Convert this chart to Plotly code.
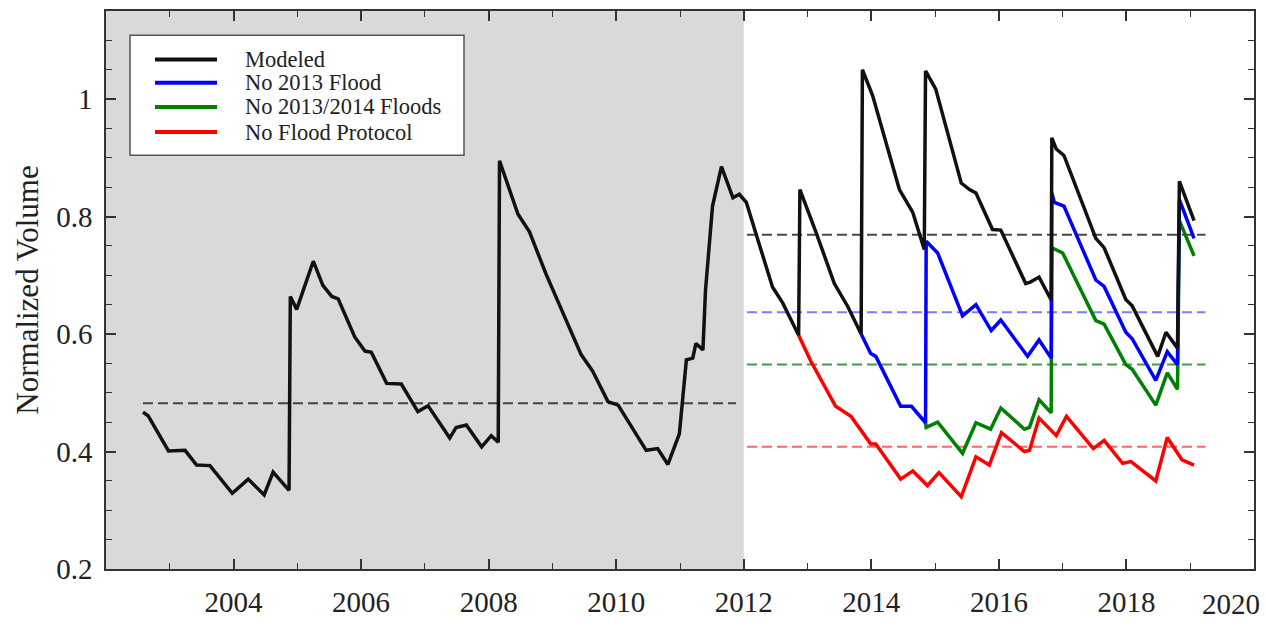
import plotly.graph_objects as go

# ---------------- data ----------------
modeled_x = [2002.58, 2002.66, 2002.98, 2003.24, 2003.42, 2003.63, 2003.98, 2004.23, 2004.48, 2004.62,
             2004.87, 2004.89, 2004.99, 2005.25, 2005.40, 2005.54, 2005.64, 2005.90, 2006.06, 2006.16,
             2006.40, 2006.63, 2006.89, 2007.05, 2007.39, 2007.49, 2007.65, 2007.89, 2008.04, 2008.15,
             2008.17, 2008.46, 2008.64, 2008.90, 2009.45, 2009.63, 2009.87, 2010.03, 2010.47, 2010.65,
             2010.81, 2010.99, 2011.10, 2011.20, 2011.25, 2011.36, 2011.40, 2011.51, 2011.65, 2011.83,
             2011.93, 2012.04, 2012.45, 2012.61, 2012.86, 2012.88, 2013.13, 2013.42, 2013.63, 2013.84,
             2013.86, 2014.02, 2014.44, 2014.65, 2014.83, 2014.85, 2015.01, 2015.41, 2015.54, 2015.64,
             2015.90, 2016.03, 2016.42, 2016.50, 2016.63, 2016.82, 2016.83, 2016.90, 2017.02, 2017.52,
             2017.65, 2017.99, 2018.09, 2018.49, 2018.62, 2018.80, 2018.83, 2019.06]
modeled_y = [0.467, 0.461, 0.401, 0.402, 0.377, 0.376, 0.329, 0.353, 0.326, 0.365,
             0.334, 0.664, 0.642, 0.724, 0.683, 0.664, 0.660, 0.595, 0.571, 0.569,
             0.516, 0.515, 0.468, 0.478, 0.423, 0.441, 0.445, 0.408, 0.427, 0.416,
             0.895, 0.804, 0.774, 0.702, 0.565, 0.537, 0.485, 0.479, 0.402, 0.405,
             0.378, 0.430, 0.556, 0.559, 0.584, 0.573, 0.675, 0.818, 0.885, 0.832,
             0.838, 0.824, 0.680, 0.653, 0.598, 0.846, 0.774, 0.686, 0.647, 0.600,
             1.050, 1.006, 0.846, 0.807, 0.744, 1.048, 1.017, 0.857, 0.846, 0.840,
             0.778, 0.777, 0.686, 0.689, 0.697, 0.658, 0.934, 0.915, 0.904, 0.763,
             0.747, 0.659, 0.648, 0.562, 0.603, 0.576, 0.860, 0.793]

no2013_x = [2013.84, 2013.99, 2014.07, 2014.46, 2014.63, 2014.85, 2014.86, 2015.04, 2015.43, 2015.64,
            2015.88, 2016.03, 2016.45, 2016.63, 2016.82, 2016.83, 2016.87, 2017.02, 2017.52, 2017.65,
            2017.99, 2018.09, 2018.46, 2018.64, 2018.80, 2018.83, 2019.06]
no2013_y = [0.600, 0.567, 0.562, 0.477, 0.477, 0.449, 0.758, 0.738, 0.631, 0.650,
            0.606, 0.624, 0.562, 0.590, 0.559, 0.840, 0.824, 0.818, 0.692, 0.681,
            0.603, 0.592, 0.521, 0.570, 0.548, 0.829, 0.763]

no2013_14_x = [2014.85, 2014.86, 2015.04, 2015.43, 2015.64, 2015.87, 2016.03, 2016.40, 2016.48, 2016.63,
               2016.82, 2016.83, 2017.00, 2017.52, 2017.65, 2017.99, 2018.09, 2018.46, 2018.64, 2018.80,
               2018.83, 2019.06]
no2013_14_y = [0.449, 0.441, 0.450, 0.397, 0.449, 0.438, 0.474, 0.438, 0.441, 0.488,
               0.466, 0.747, 0.738, 0.623, 0.617, 0.548, 0.540, 0.479, 0.534, 0.506,
               0.793, 0.733]

noprotocol_x = [2012.86, 2013.05, 2013.44, 2013.68, 2013.99, 2014.07, 2014.46, 2014.65, 2014.88, 2015.06,
                2015.41, 2015.64, 2015.85, 2016.04, 2016.40, 2016.48, 2016.63, 2016.90, 2017.06, 2017.48,
                2017.65, 2017.94, 2018.07, 2018.46, 2018.64, 2018.87, 2019.06]
noprotocol_y = [0.598, 0.554, 0.477, 0.460, 0.413, 0.413, 0.353, 0.367, 0.342, 0.364,
                0.323, 0.391, 0.377, 0.432, 0.400, 0.402, 0.457, 0.427, 0.460, 0.405,
                0.419, 0.380, 0.383, 0.350, 0.424, 0.386, 0.377]

# mean (dashed) lines
mean_hist_x = [2002.58, 2011.88]
mean_hist_y = 0.482
mean_future_x = [2012.05, 2019.24]
mean_modeled = 0.769
mean_no2013 = 0.637
mean_no2013_14 = 0.548
mean_noprotocol = 0.408

historical_period = [2002, 2012]
x_ticks = [2004, 2006, 2008, 2010, 2012, 2014, 2016, 2018, 2020]
y_ticks = [0.2, 0.4, 0.6, 0.8, 1.0]
y_tick_text = ["0.2", "0.4", "0.6", "0.8", "1"]

legend_labels = ["Modeled", "No 2013 Flood", "No 2013/2014 Floods", "No Flood Protocol"]
legend_colors = ["#111111", "#0000ff", "#008000", "#ff0000"]

# ---------------- figure ----------------
SERIF = "Liberation Serif, Times New Roman, serif"
fig = go.Figure()

def hline(xs, val, color):
    fig.add_trace(go.Scatter(x=xs, y=[val, val], mode="lines", showlegend=False,
                             hoverinfo="skip",
                             line=dict(color=color, width=2, dash="10px,5px")))

hline(mean_hist_x, mean_hist_y, "rgba(40,40,40,0.85)")
hline(mean_future_x, mean_modeled, "rgba(40,40,40,0.85)")
hline(mean_future_x, mean_no2013, "rgba(90,90,255,0.8)")
hline(mean_future_x, mean_no2013_14, "rgba(30,140,30,0.85)")
hline(mean_future_x, mean_noprotocol, "rgba(255,60,60,0.8)")

# scenario lines (drawn under the modeled line)
series = [
    (noprotocol_x, noprotocol_y, legend_labels[3], legend_colors[3]),
    (no2013_14_x, no2013_14_y, legend_labels[2], legend_colors[2]),
    (no2013_x, no2013_y, legend_labels[1], legend_colors[1]),
    (modeled_x, modeled_y, legend_labels[0], legend_colors[0]),
]
for xs, ys, name, color in series:
    fig.add_trace(go.Scatter(x=xs, y=ys, mode="lines", name=name, showlegend=False,
                             line=dict(color=color, width=3.5)))

# historical (shaded) period
fig.add_shape(type="rect", xref="x", yref="paper",
              x0=historical_period[0], x1=historical_period[1], y0=0, y1=1,
              fillcolor="#d9d9d9", line=dict(width=0), layer="below")

# legend box (paper coordinates of the plot area)
PL, PR, PT, PB = 106, 1254, 9, 585
def px(xp):
    return (xp - PL) / (PR - PL)
def py(yp):
    return (PB - yp) / (PB - PT)

fig.add_shape(type="rect", xref="paper", yref="paper",
              x0=px(130), x1=px(464), y0=py(158), y1=py(34),
              fillcolor="white", line=dict(color="#555555", width=1.5), layer="above")
row_y = [59, 83, 108, 134]
for lab, col, ry in zip(legend_labels, legend_colors, row_y):
    fig.add_shape(type="line", xref="paper", yref="paper",
                  x0=px(155), x1=px(217), y0=py(ry), y1=py(ry),
                  line=dict(color=col, width=4), layer="above")
    fig.add_annotation(x=px(243), y=py(ry), xref="paper", yref="paper", text=lab,
                       showarrow=False, xanchor="left", yanchor="middle",
                       font=dict(family=SERIF, size=22.5, color="#222222"))

axis_common = dict(showline=True, linecolor="#333333", linewidth=1.5, mirror="ticks",
                   ticks="inside", ticklen=10, tickwidth=1.5, tickcolor="#333333",
                   showgrid=False, zeroline=False,
                   tickfont=dict(family=SERIF, size=29, color="#222222"))

x_tick_text = [str(v) if v != x_ticks[-1] else "" for v in x_ticks]
fig.update_xaxes(range=[2002, 2020], tickmode="array", tickvals=x_ticks,
                 ticktext=x_tick_text, ticklabelstandoff=6,
                 minor=dict(tickmode="linear", tick0=2002, dtick=1, ticklen=6,
                            tickwidth=1.2, tickcolor="#333333", ticks="inside"),
                 **axis_common)
# last x tick label kept inside the figure, right-aligned like the original
fig.add_annotation(x=x_ticks[-1], y=0, xref="x", yref="paper", text=str(x_ticks[-1]),
                   showarrow=False, xanchor="right", yanchor="top", xshift=8, yshift=-17,
                   font=dict(family=SERIF, size=29, color="#222222"))

fig.update_yaxes(range=[0.2, 1.15], tickmode="array", tickvals=y_ticks, ticktext=y_tick_text,
                 ticklabelstandoff=6,
                 minor=dict(tickmode="linear", tick0=0.2, dtick=0.05, ticklen=6,
                            tickwidth=1.2, tickcolor="#333333", ticks="inside"),
                 title=dict(text="Normalized Volume", standoff=8,
                            font=dict(family=SERIF, size=31, color="#222222")),
                 **axis_common)

fig.update_layout(
    width=1266, height=627,
    margin=dict(l=106, r=12, t=9, b=42),
    paper_bgcolor="white", plot_bgcolor="white",
    showlegend=False,
)

fig.write_html("out.html")
